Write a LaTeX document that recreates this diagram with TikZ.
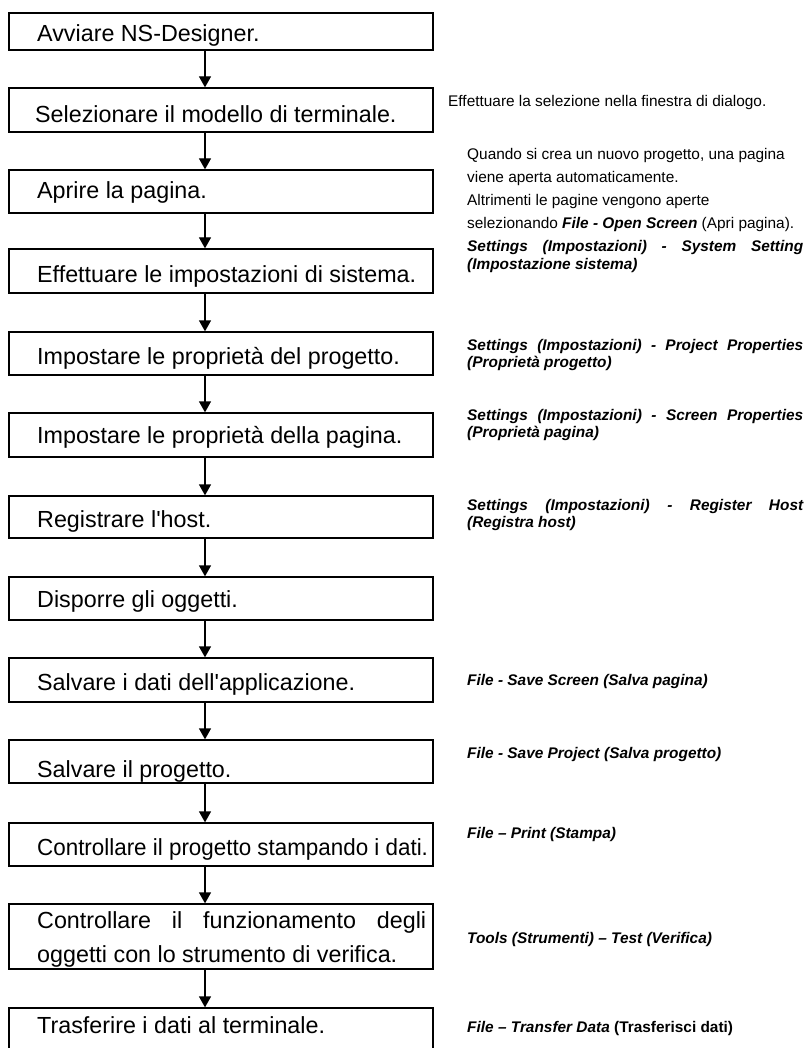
\documentclass[tikz,border=0pt]{standalone}
\usepackage{fontspec}
\setmainfont{Liberation Sans}[Ligatures=TeXOff]
\usetikzlibrary{arrows.meta}
% a line spread to a given width, its gaps widened equally
\newcommand{\spreadline}[2]{\makebox[#1][s]{\spaceskip=.278em plus 1fil\relax #2}}
\begin{document}
\begin{tikzpicture}[x=1pt,y=-1pt,
  box/.style={draw, line width=1.3pt, inner sep=0pt, minimum width=424pt},
  steptext/.style={anchor=base west, inner sep=0pt, font=\fontsize{23.3}{34}\selectfont, align=flush left},
  note/.style={anchor=base west, inner sep=0pt, font=\fontsize{15.4}{23}\selectfont, align=flush left},
  menu/.style={anchor=base west, inner sep=0pt, font=\fontsize{15.4}{17.5}\selectfont\bfseries\itshape, align=flush left},
  flow/.style={line width=1.3pt, -{Triangle[length=11pt,width=12pt]}}]
\useasboundingbox[fill=white] (0,0) rectangle (808,1048);

% arrow axis
\coordinate (ax) at (205,0);

% process boxes (centre y, height)
\node[box, minimum height=37pt] (b1)  at (221,31.5) {};
\node[box, minimum height=44pt] (b2)  at (221,110)  {};
\node[box, minimum height=43pt] (b3)  at (221,191.5) {};
\node[box, minimum height=44pt] (b4)  at (221,271)  {};
\node[box, minimum height=43pt] (b5)  at (221,353.5) {};
\node[box, minimum height=44pt] (b6)  at (221,435)  {};
\node[box, minimum height=42pt] (b7)  at (221,517)  {};
\node[box, minimum height=43pt] (b8)  at (221,598.5) {};
\node[box, minimum height=44pt] (b9)  at (221,680)  {};
\node[box, minimum height=43pt] (b10) at (221,761.5) {};
\node[box, minimum height=43pt] (b11) at (221,844.5) {};
\node[box, minimum height=65pt] (b12) at (221,936.5) {};
\node[box, minimum height=52pt] (b13) at (221,1034) {};

% step texts
\node[steptext] (t1)  at (37,41.5) {Avviare NS-Designer.};
\node[steptext] (t2)  at (35,123)  {Selezionare il modello di terminale.};
\node[steptext] (t3)  at (37,199)  {Aprire la pagina.};
\node[steptext] (t4)  at (37,283)  {Effettuare le impostazioni di sistema.};
\node[steptext] (t5)  at (37,364)  {Impostare le proprietà del progetto.};
\node[steptext] (t6)  at (37,443)  {Impostare le proprietà della pagina.};
\node[steptext] (t7)  at (37,527)  {Registrare l'host.};
\node[steptext] (t8)  at (37,607)  {Disporre gli oggetti.};
\node[steptext] (t9)  at (37,690)  {Salvare i dati dell'applicazione.};
\node[steptext] (t10) at (37,777)  {Salvare il progetto.};
\node[steptext] (t11) at (37,855)  {\scalebox{0.961}[1]{Controllare il progetto stampando i dati.}};
\node[steptext, text width=392pt] (t12) at (37,928)
  {\spreadline{389pt}{Controllare il funzionamento degli}\\oggetti con lo strumento di verifica.};
\node[steptext] (t13) at (37,1033) {Trasferire i dati al terminale.};

% connectors
\foreach \a/\b in {b1/b2,b2/b3,b3/b4,b4/b5,b5/b6,b6/b7,b7/b8,b8/b9,b9/b10,b10/b11,b11/b12,b12/b13}
  \draw[flow] (\a.south -| ax) -- (\b.north -| ax);

% side notes
\node[note] (n2) at (448,107) {Effettuare la selezione nella finestra di dialogo.};
\node[note, text width=345pt] (n3) at (467,160)
  {Quando si crea un nuovo progetto, una pagina\\
   viene aperta automaticamente.\\
   Altrimenti le pagine vengono aperte\\
   selezionando \textbf{\textit{File - Open Screen}} (Apri pagina).};
\node[menu, text width=340pt] (n4) at (467,252)
  {\spreadline{336pt}{Settings (Impostazioni) - System Setting}\\(Impostazione sistema)};
\node[menu, text width=340pt] (n5) at (467,350)
  {\spreadline{336pt}{Settings (Impostazioni) - Project Properties}\\(Proprietà progetto)};
\node[menu, text width=340pt] (n6) at (467,420)
  {\spreadline{336pt}{Settings (Impostazioni) - Screen Properties}\\(Proprietà pagina)};
\node[menu, text width=340pt] (n7) at (467,510)
  {\spreadline{336pt}{Settings (Impostazioni) - Register Host}\\(Registra host)};
\node[menu] (n9)  at (467,685)  {File - Save Screen (Salva pagina)};
\node[menu] (n10) at (467,758)  {File - Save Project (Salva progetto)};
\node[menu] (n11) at (467,838)  {File – Print (Stampa)};
\node[menu] (n12) at (467,943)  {Tools (Strumenti) – Test (Verifica)};
\node[menu] (n13) at (467,1032) {File – Transfer Data \upshape(Trasferisci dati)};
\end{tikzpicture}
\end{document}
